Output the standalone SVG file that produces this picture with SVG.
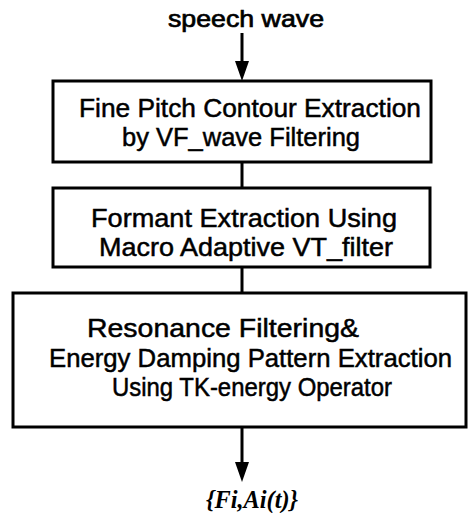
<svg xmlns="http://www.w3.org/2000/svg" width="468" height="513" viewBox="0 0 468 513">
<style>
.box{fill:#fff;stroke:#000;stroke-width:3}
.t{font-family:"Liberation Sans",Arial,sans-serif;font-size:26px;fill:#000;stroke:#000;stroke-width:0.5}
.c{stroke:#000;stroke-width:3;fill:none}
.h{fill:#000}
</style>
<rect width="468" height="513" fill="#fff"/>
<g id="connectors">
<line class="c" x1="242" y1="33" x2="242" y2="64"/>
<polygon class="h" points="235,61 249,61 242,81"/>
<line class="c" x1="242" y1="162" x2="242" y2="188"/>
<line class="c" x1="242" y1="267" x2="242" y2="293"/>
<line class="c" x1="242" y1="427" x2="242" y2="465"/>
<polygon class="h" points="235,462 249,462 242,482"/>
</g>
<g id="input">
<text class="t" x="168" y="27" textLength="156" lengthAdjust="spacingAndGlyphs" style="font-size:24px;stroke-width:0.7">speech wave</text>
</g>
<g id="node1">
<rect class="box" x="53" y="81" width="378" height="81"/>
<text class="t" x="79" y="116.5" textLength="342" lengthAdjust="spacingAndGlyphs">Fine Pitch Contour Extraction</text>
<text class="t" x="122" y="145.5" textLength="238" lengthAdjust="spacingAndGlyphs">by VF_wave Filtering</text>
</g>
<g id="node2">
<rect class="box" x="53" y="188" width="377" height="79"/>
<text class="t" x="91" y="227" textLength="306" lengthAdjust="spacingAndGlyphs">Formant Extraction Using</text>
<text class="t" x="99" y="256" textLength="294" lengthAdjust="spacingAndGlyphs">Macro Adaptive VT_filter</text>
</g>
<g id="node3">
<rect class="box" x="13" y="293" width="453" height="134"/>
<text class="t" x="87" y="337" textLength="272" lengthAdjust="spacingAndGlyphs">Resonance Filtering&amp;</text>
<text class="t" x="49" y="367" textLength="403" lengthAdjust="spacingAndGlyphs">Energy Damping Pattern  Extraction</text>
<text class="t" x="112" y="396" textLength="280" lengthAdjust="spacingAndGlyphs">Using TK-energy Operator</text>
</g>
<g id="output">
<text x="206" y="508" textLength="92" lengthAdjust="spacingAndGlyphs" style="font-family:'Liberation Serif','Times New Roman',serif;font-size:25px;font-style:italic;font-weight:bold">{Fi,Ai(t)}</text>
</g>
</svg>
